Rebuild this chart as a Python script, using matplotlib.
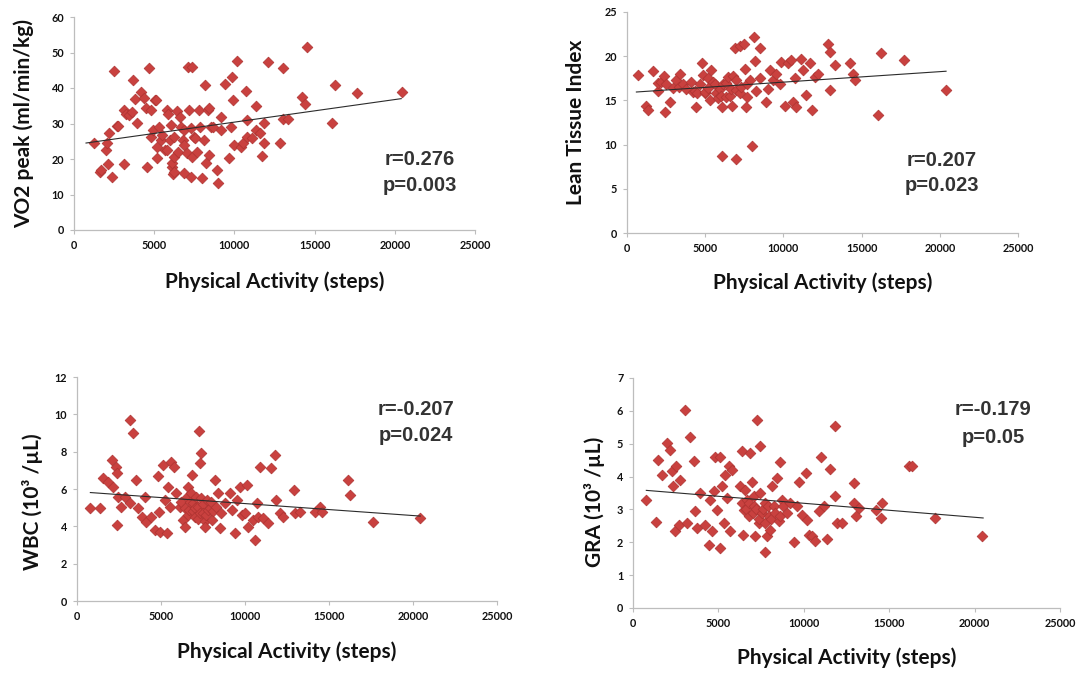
import matplotlib
matplotlib.use("Agg")
import matplotlib.pyplot as plt

# ---------------- data ----------------
x_ticks = [0, 5000, 10000, 15000, 20000, 25000]

vo2_steps = [1250, 1620, 1680, 1990, 2060, 2140, 2180, 2370, 2490, 2680, 2770, 3110, 3110, 3240, 3430,
             3600, 3680, 3800, 3920, 4170, 4360, 4490, 4550, 4670, 4800, 4800, 4910, 5050, 5110, 5170,
             5170, 5300, 5420, 5470, 5680, 5790, 5800, 5880, 5990, 6040, 6090, 6110, 6200, 6230, 6230,
             6230, 6420, 6510, 6610, 6670, 6780, 6850, 6850, 6860, 7040, 7130, 7170, 7290, 7290, 7340,
             7340, 7480, 7550, 7660, 7790, 7860, 7980, 8100, 8160, 8220, 8380, 8410, 8410, 8540, 8690,
             8900, 8970, 9160, 9160, 9410, 9660, 9780, 9840, 9900, 9970, 10150, 10400, 10560, 10720, 10780,
             10780, 11080, 11340, 11340, 11600, 11710, 11840, 11840, 12090, 12840, 13050, 13050, 13370, 14200, 14410,
             14510, 16070, 16280, 17630, 20440]
vo2_vals = [24.5, 16.4, 16.9, 22.5, 24.5, 18.7, 27.3, 14.9, 44.8, 29.3, 29.2, 33.7, 18.6, 32.8, 32.3,
            33.3, 42.2, 37.0, 30.1, 38.8, 37.1, 34.3, 17.7, 45.5, 33.7, 26.2, 28.1, 36.6, 36.6, 23.4,
            20.3, 29.0, 25.3, 26.7, 22.5, 22.5, 33.7, 32.8, 25.3, 29.5, 17.8, 18.8, 15.9, 26.2, 20.5,
            16.3, 33.5, 22.0, 31.9, 29.0, 25.3, 23.9, 16.0, 28.1, 21.7, 45.9, 33.7, 28.7, 14.9, 46.0,
            20.6, 26.2, 25.8, 21.9, 33.7, 29.1, 14.6, 25.3, 40.8, 18.8, 33.7, 34.3, 21.1, 29.0, 29.1,
            16.9, 13.2, 31.8, 28.1, 41.1, 20.3, 29.0, 43.0, 36.6, 23.9, 47.6, 23.4, 24.4, 39.1, 30.9,
            26.2, 25.8, 34.9, 28.1, 27.2, 20.8, 30.1, 24.5, 47.2, 24.4, 45.5, 31.4, 31.4, 37.5, 35.6,
            51.5, 30.2, 40.8, 38.6, 38.9]
vo2_trend_x = [750, 20400]
vo2_trend_y = [24.5, 37.0]

lti_steps = [700, 1240, 1340, 1660, 1980, 2000, 2190, 2340, 2410, 2500, 2730, 2940, 3150, 3300, 3370,
             3580, 3790, 4110, 4200, 4330, 4430, 4500, 4650, 4820, 4860, 4970, 5000, 5180, 5200, 5290,
             5390, 5500, 5600, 5710, 5800, 5920, 6000, 6090, 6090, 6140, 6300, 6350, 6460, 6600, 6670,
             6730, 6800, 6880, 6990, 6990, 7000, 7200, 7200, 7310, 7460, 7520, 7590, 7670, 7700, 7840,
             8010, 8100, 8160, 8270, 8480, 8520, 8910, 9010, 9120, 9330, 9550, 9760, 9870, 10080, 10290,
             10510, 10610, 10720, 10780, 11140, 11250, 11460, 11720, 11850, 12000, 12210, 12850, 12960, 12960, 13280,
             14240, 14450, 14550, 16050, 16260, 17690, 20410]
lti_vals = [17.9, 14.4, 13.9, 18.3, 16.1, 17.0, 17.1, 17.8, 13.7, 16.8, 14.8, 16.4, 17.3, 16.5, 18.0,
            16.9, 16.3, 17.1, 16.0, 16.1, 14.3, 15.8, 16.9, 19.2, 17.9, 15.8, 16.0, 16.4, 17.5, 15.0,
            18.4, 17.1, 16.8, 15.8, 15.3, 16.3, 15.5, 14.3, 8.7, 16.9, 17.0, 15.4, 17.6, 15.5, 16.3,
            14.4, 17.8, 20.9, 8.4, 17.3, 16.2, 21.2, 15.8, 16.5, 21.4, 18.6, 14.3, 15.4, 16.8, 17.3,
            9.8, 22.2, 19.5, 16.1, 20.9, 17.5, 14.8, 16.3, 18.4, 17.3, 18.0, 16.9, 19.3, 14.4, 19.2,
            19.6, 14.8, 17.5, 14.3, 19.7, 18.4, 15.6, 19.2, 13.9, 17.6, 18.0, 21.4, 20.5, 16.2, 19.0,
            19.2, 18.0, 17.3, 13.4, 20.4, 19.6, 16.2]
lti_trend_x = [600, 20400]
lti_trend_y = [15.95, 18.3]

wbc_steps = [755, 1350, 1550, 1850, 2110, 2150, 2300, 2380, 2380, 2440, 2640, 2840, 3140, 3140, 3340,
             3540, 3640, 3840, 4040, 4130, 4430, 4630, 4830, 4890, 4930, 5130, 5230, 5330, 5420, 5520,
             5620, 5760, 5920, 6120, 6200, 6320, 6400, 6420, 6520, 6600, 6620, 6680, 6700, 6800, 6820,
             6900, 6910, 7000, 7010, 7110, 7200, 7210, 7270, 7300, 7310, 7400, 7410, 7500, 7510, 7600,
             7610, 7700, 7710, 7810, 7900, 8000, 8010, 8100, 8210, 8300, 8400, 8500, 8600, 8800, 9100,
             9200, 9400, 9500, 9700, 9800, 9990, 10090, 10190, 10490, 10590, 10690, 10790, 10890, 11090, 11380,
             11520, 11780, 11840, 12080, 12240, 12940, 12970, 13270, 14170, 14460, 14560, 16150, 16250, 17640, 20430]
wbc_vals = [4.96, 4.96, 6.58, 6.40, 7.56, 6.13, 7.20, 6.85, 4.07, 5.59, 5.05, 5.59, 9.71, 5.23, 9.00,
            6.49, 4.96, 4.52, 5.59, 4.25, 4.52, 3.80, 6.67, 4.78, 3.71, 7.29, 5.41, 3.62, 6.13, 5.05,
            7.47, 7.20, 5.77, 5.05, 5.30, 4.34, 5.00, 3.98, 5.59, 4.60, 6.13, 4.87, 5.30, 5.80, 6.76,
            4.80, 5.23, 5.00, 4.52, 5.59, 4.40, 5.05, 9.09, 4.70, 7.38, 5.50, 7.92, 5.20, 4.70, 4.30,
            3.98, 4.60, 5.41, 4.87, 5.00, 5.30, 4.34, 4.80, 6.49, 5.05, 5.77, 3.89, 4.70, 5.23, 5.77,
            4.87, 3.62, 5.41, 6.13, 4.61, 4.70, 6.22, 3.98, 4.34, 3.26, 5.23, 4.52, 7.20, 4.43, 4.16,
            7.11, 7.83, 5.41, 4.70, 4.52, 5.95, 4.70, 4.78, 4.78, 5.05, 4.78, 6.49, 5.68, 4.25, 4.43]
wbc_trend_x = [795, 20430]
wbc_trend_y = [5.81, 4.55]

gra_steps = [780, 1370, 1460, 1700, 1990, 2190, 2290, 2340, 2480, 2540, 2680, 2770, 3070, 3160, 3360,
             3550, 3650, 3750, 3950, 4240, 4430, 4530, 4630, 4770, 4830, 4920, 5080, 5120, 5210, 5310,
             5410, 5510, 5610, 5700, 5800, 6290, 6390, 6400, 6450, 6520, 6580, 6600, 6680, 6780, 6800,
             6870, 6970, 7000, 7070, 7100, 7170, 7200, 7270, 7360, 7400, 7420, 7460, 7560, 7600, 7700,
             7700, 7750, 7850, 7900, 7950, 8050, 8100, 8140, 8240, 8300, 8440, 8540, 8590, 8600, 8730,
             8800, 9020, 9220, 9410, 9610, 9710, 9900, 10100, 10190, 10290, 10490, 10680, 10880, 10980, 11170,
             11370, 11560, 11850, 11850, 11950, 12250, 12930, 12930, 13030, 13220, 14200, 14500, 14590, 16150, 16350,
             17710, 20450]
gra_vals = [3.30, 2.61, 4.51, 4.06, 5.02, 4.82, 4.16, 3.70, 2.33, 4.31, 2.54, 3.90, 6.03, 2.59, 5.20,
            4.46, 2.94, 2.43, 3.50, 2.54, 1.93, 3.30, 2.33, 3.55, 4.61, 2.99, 4.61, 1.83, 3.70, 2.59,
            4.06, 3.35, 4.31, 2.33, 4.21, 3.70, 4.77, 3.20, 2.23, 2.99, 3.60, 3.00, 3.30, 2.79, 3.20,
            4.71, 3.85, 2.90, 3.09, 3.40, 2.20, 3.00, 5.73, 2.59, 2.70, 4.94, 3.50, 2.89, 3.00, 1.69,
            2.60, 3.19, 2.18, 3.10, 2.79, 2.38, 2.70, 3.70, 3.09, 2.90, 3.96, 2.64, 4.43, 2.80, 3.30,
            3.10, 2.89, 3.19, 2.00, 3.09, 3.82, 2.84, 4.11, 2.69, 2.23, 2.18, 2.03, 2.94, 4.61, 3.09,
            2.11, 4.23, 3.42, 5.53, 2.59, 2.59, 3.80, 3.19, 2.81, 3.04, 2.99, 2.74, 3.21, 4.31, 4.31,
            2.74, 2.20]
gra_trend_x = [780, 20500]
gra_trend_y = [3.58, 2.74]

panels = [
    dict(x=vo2_steps, y=vo2_vals, tx=vo2_trend_x, ty=vo2_trend_y, ylim=(0, 60), yticks=list(range(0, 61, 10)),
         ylabel="VO2 peak (ml/min/kg)", r="r=0.276", p="p=0.003",
         box=(74, 17, 475, 230), rpos=(0.863, 0.329, 0.211), xl=-0.244, yl=(-0.125, 0.5)),
    dict(x=lti_steps, y=lti_vals, tx=lti_trend_x, ty=lti_trend_y, ylim=(0, 25), yticks=list(range(0, 26, 5)),
         ylabel="Lean Tissue Index", r="r=0.207", p="p=0.023",
         box=(627, 12, 1018, 233), rpos=(0.806, 0.33, 0.217), xl=-0.226, yl=(-0.130, 0.5)),
    dict(x=wbc_steps, y=wbc_vals, tx=wbc_trend_x, ty=wbc_trend_y, ylim=(0, 12), yticks=list(range(0, 13, 2)),
         ylabel="WBC (10³ /µL)", r="r=-0.207", p="p=0.024",
         box=(77, 377, 497, 601), rpos=(0.807, 0.857, 0.737), xl=-0.228, yl=(-0.105, 0.442)),
    dict(x=gra_steps, y=gra_vals, tx=gra_trend_x, ty=gra_trend_y, ylim=(0, 7), yticks=list(range(0, 8)),
         ylabel="GRA (10³ /µL)", r="r=-0.179", p="p=0.05",
         box=(633, 378, 1060, 608), rpos=(0.843, 0.861, 0.743), xl=-0.217, yl=(-0.089, 0.461)),
]

W, H = 1092, 674
fig = plt.figure(figsize=(W / 100, H / 100), dpi=100)
fig.patch.set_facecolor("white")

LABEL_FONT = ["Lato", "DejaVu Sans"]
for pn in panels:
    l, t, r, b = pn["box"]
    ax = fig.add_axes([l / W, (H - b) / H, (r - l) / W, (b - t) / H])
    ax.set_facecolor("none")
    ax.scatter(pn["x"], pn["y"], marker="D", s=30, facecolor="#C9413F", edgecolor="#AE3331",
               linewidths=0.5, zorder=3)
    ax.plot(pn["tx"], pn["ty"], color="#2b2b2b", lw=0.8, zorder=4)
    ax.set_xlim(0, 25000)
    ax.set_ylim(*pn["ylim"])
    ax.set_xticks(x_ticks)
    ax.set_yticks(pn["yticks"])
    ax.set_xticklabels([str(v) for v in x_ticks])
    ax.set_yticklabels([str(v) for v in pn["yticks"]])
    for s in ("top", "right"):
        ax.spines[s].set_visible(False)
    for s in ("left", "bottom"):
        ax.spines[s].set_color("#bdbdbd")
        ax.spines[s].set_linewidth(0.9)
    ax.tick_params(axis="both", colors="#bdbdbd", length=3, width=0.8, direction="out",
                   labelcolor="#111111", labelsize=7.8, pad=4)
    for lab in ax.get_xticklabels() + ax.get_yticklabels():
        lab.set_fontfamily(LABEL_FONT)
        lab.set_fontweight("bold")
    ax.set_xlabel("Physical Activity (steps)", fontsize=15, fontweight="bold",
                  family=LABEL_FONT, color="#111111", va="center")
    ax.xaxis.set_label_coords(0.5, pn["xl"])
    ax.set_ylabel(pn["ylabel"], fontsize=15, fontweight="bold", family=LABEL_FONT,
                  color="#111111", va="center")
    ax.yaxis.set_label_coords(pn["yl"][0], pn["yl"][1])
    rx, ry, py = pn["rpos"]
    ax.text(rx, ry, pn["r"], transform=ax.transAxes, ha="center", va="center",
            fontsize=14.5, fontweight="bold", family=["Liberation Sans", "DejaVu Sans"], color="#333333")
    ax.text(rx, py, pn["p"], transform=ax.transAxes, ha="center", va="center",
            fontsize=14.5, fontweight="bold", family=["Liberation Sans", "DejaVu Sans"], color="#333333")

fig.savefig("out.png", dpi=100, facecolor="white")
